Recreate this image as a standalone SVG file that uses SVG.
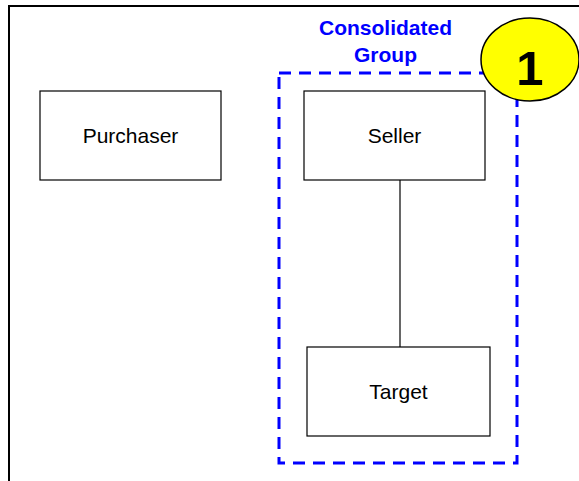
<svg xmlns="http://www.w3.org/2000/svg" width="579" height="481" viewBox="0 0 579 481">
<style>
.box{fill:#fff;stroke:#000;stroke-width:1.2}
.lbl{font-family:"Liberation Sans",Arial,sans-serif;font-size:21px;text-anchor:middle;fill:#000}
.grp{font-family:"Liberation Sans",Arial,sans-serif;font-size:21px;font-weight:bold;text-anchor:middle;fill:#0000ff}
</style>
<rect width="579" height="481" fill="#fff"/>
<path d="M9 482 V6 H580" fill="none" stroke="#000" stroke-width="2"/>
<g id="group">
<rect x="279" y="73" width="238" height="390" fill="none" stroke="#0000ff" stroke-width="3" stroke-dasharray="12,8"/>
<text class="grp" x="385.5" y="35">Consolidated</text>
<text class="grp" x="385.5" y="62">Group</text>
</g>
<g id="connectors">
<line x1="400" y1="180" x2="400" y2="347" stroke="#000" stroke-width="1.2"/>
</g>
<g id="purchaser">
<rect class="box" x="40" y="91" width="181" height="89"/>
<text class="lbl" x="130.5" y="143">Purchaser</text>
</g>
<g id="seller">
<rect class="box" x="304" y="91" width="181" height="89"/>
<text class="lbl" x="394.5" y="143">Seller</text>
</g>
<g id="target">
<rect class="box" x="307" y="347" width="183" height="89"/>
<text class="lbl" x="398.5" y="399">Target</text>
</g>
<g id="badge">
<ellipse cx="530" cy="59.5" rx="49" ry="41.5" fill="#ffff00" stroke="#000" stroke-width="1.5"/>
<text x="530" y="85" font-family="Liberation Sans,Arial,sans-serif" font-size="49" font-weight="bold" text-anchor="middle">1</text>
</g>
</svg>
